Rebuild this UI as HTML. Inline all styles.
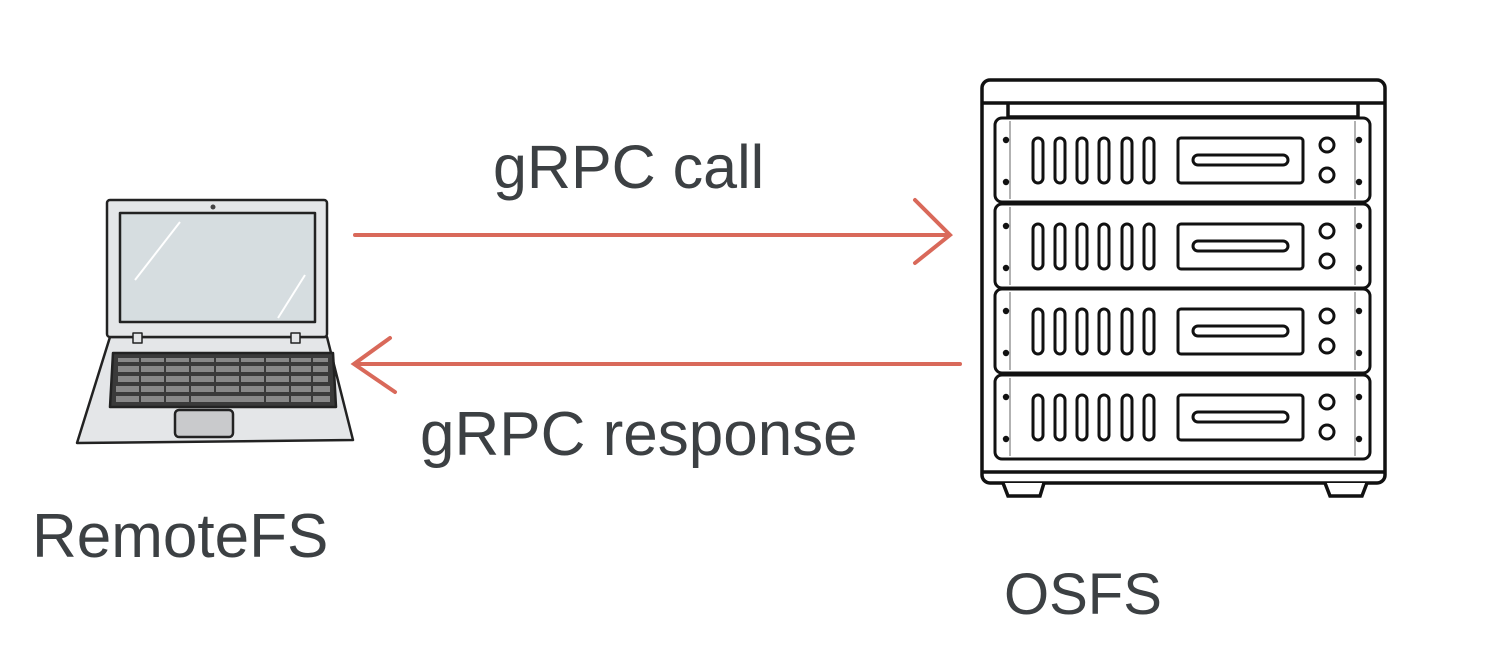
<!DOCTYPE html>
<html><head><meta charset="utf-8"><style>
html,body{margin:0;padding:0;background:#fff;}
svg{display:block}
text{font-family:"Liberation Sans",sans-serif;fill:#3c4043;}
</style></head><body>
<svg width="1506" height="664" viewBox="0 0 1506 664" xmlns="http://www.w3.org/2000/svg">
<defs>
<g id="unit">
 <rect x="0" y="0" width="375" height="84" rx="7" fill="#fff" stroke="#111" stroke-width="3"/>
 <line x1="15" y1="3" x2="15" y2="81" stroke="#666" stroke-width="1"/>
 <line x1="360" y1="3" x2="360" y2="81" stroke="#666" stroke-width="1"/>
 <circle cx="11" cy="22" r="3.2" fill="#111"/><circle cx="11" cy="64" r="3.2" fill="#111"/>
 <circle cx="364" cy="22" r="3.2" fill="#111"/><circle cx="364" cy="64" r="3.2" fill="#111"/>
 <g fill="none" stroke="#111" stroke-width="3">
  <rect x="38" y="20" width="10" height="45" rx="5"/>
  <rect x="60" y="20" width="10" height="45" rx="5"/>
  <rect x="82" y="20" width="10" height="45" rx="5"/>
  <rect x="104" y="20" width="10" height="45" rx="5"/>
  <rect x="127" y="20" width="10" height="45" rx="5"/>
  <rect x="149" y="20" width="10" height="45" rx="5"/>
  <rect x="183" y="20" width="125" height="45" rx="3"/>
  <rect x="198" y="37" width="95" height="10" rx="5"/>
  <circle cx="332" cy="27" r="7"/>
  <circle cx="332" cy="57" r="7"/>
 </g>
</g>
</defs>

<!-- laptop -->
<g stroke="#222" stroke-width="2.5" stroke-linejoin="round">
 <path d="M110 337 L327 337 L353 440 L77 443 Z" fill="#e4e6e8"/>
 <rect x="107" y="200" width="220" height="137" rx="3" fill="#e4e6e8"/>
 <rect x="120" y="213" width="195" height="109" fill="#d6dde0"/>
 <path d="M113 353 L333 353 L336 407 L110 407 Z" fill="#3a3a3a"/>
 <rect x="175" y="410" width="58" height="27" rx="4" fill="#c9cacc"/>
 <rect x="133" y="333" width="9" height="10" fill="#e4e6e8" stroke-width="1.5"/>
 <rect x="291" y="333" width="9" height="10" fill="#e4e6e8" stroke-width="1.5"/>
</g>
<circle cx="213" cy="207" r="2.5" fill="#444"/>
<g stroke="#fff" stroke-width="2"><line x1="135" y1="280" x2="180" y2="222"/><line x1="278" y1="318" x2="305" y2="275"/></g>
<g fill="#888">
 <rect x="118" y="358" width="210" height="4"/><rect x="118" y="366" width="210" height="6"/>
 <rect x="118" y="376" width="210" height="6"/><rect x="116" y="386" width="214" height="6"/>
 <rect x="116" y="396" width="214" height="6"/>
</g>
<g stroke="#3a3a3a" stroke-width="2">
 <line x1="140" y1="356" x2="140" y2="405"/><line x1="165" y1="356" x2="165" y2="405"/>
 <line x1="190" y1="356" x2="190" y2="405"/><line x1="215" y1="356" x2="215" y2="395"/>
 <line x1="240" y1="356" x2="240" y2="395"/><line x1="265" y1="356" x2="265" y2="405"/>
 <line x1="290" y1="356" x2="290" y2="405"/><line x1="312" y1="356" x2="312" y2="405"/>
</g>

<!-- server -->
<g stroke="#111" stroke-width="3.5" fill="#fff">
 <rect x="982" y="80" width="403" height="403" rx="8"/>
 <line x1="982" y1="103" x2="1385" y2="103"/>
 <line x1="1008" y1="117" x2="1358" y2="117"/>
 <line x1="1008" y1="103" x2="1008" y2="117"/><line x1="1358" y1="103" x2="1358" y2="117"/>
 <line x1="982" y1="472" x2="1385" y2="472"/>
 <path d="M1003 483 L1008 496 L1040 496 L1044 483" />
 <path d="M1325 483 L1330 496 L1362 496 L1367 483" />
</g>
<use href="#unit" x="995" y="118"/>
<use href="#unit" x="995" y="204"/>
<use href="#unit" x="995" y="289"/>
<use href="#unit" x="995" y="375"/>

<!-- arrows -->
<g stroke="#d9695a" stroke-width="4" stroke-linecap="round" fill="none">
 <line x1="355" y1="235" x2="946" y2="235"/>
 <polyline points="915,200 950,235 915,263"/>
 <line x1="960" y1="364" x2="356" y2="364"/>
 <polyline points="390,338 354,364 395,392"/>
</g>

<text x="493" y="188" font-size="61">gRPC call</text>
<text x="420" y="455" font-size="62">gRPC response</text>
<text x="32" y="557" font-size="62">RemoteFS</text>
<text x="1004" y="614" font-size="58">OSFS</text>
</svg>
</body></html>
